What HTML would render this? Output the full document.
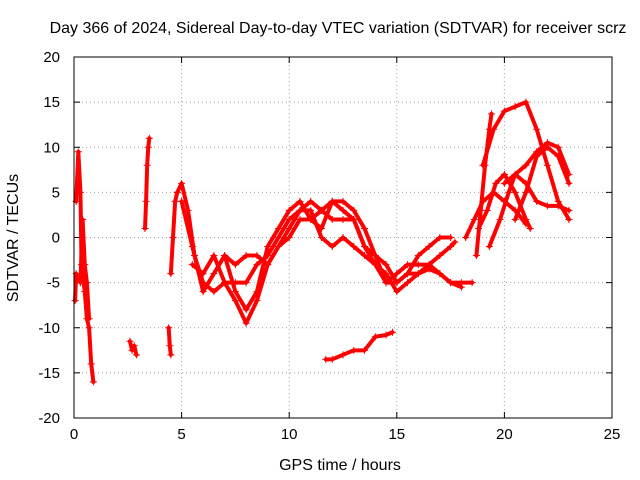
<!DOCTYPE html>
<html><head><meta charset="utf-8"><style>
body{margin:0;background:#fff}
svg{display:block;font-family:"Liberation Sans",sans-serif}
</style></head><body>
<svg id="c" width="640" height="480">
<rect width="640" height="480" fill="#fff"/>
<text x="338" y="33" font-size="16" text-anchor="middle">Day 366 of 2024, Sidereal Day-to-day VTEC variation (SDTVAR) for receiver scrz</text>
<text x="340" y="470" font-size="16" text-anchor="middle">GPS time / hours</text>
<text transform="translate(18,238) rotate(-90)" font-size="16" text-anchor="middle">SDTVAR / TECUs</text>
<g id="grid"></g><g id="ticks"></g><g id="marks"></g>
<rect x="74" y="57" width="538" height="361" fill="none" stroke="#000"/>
</svg>
<script>
const xTicks=[0,5,10,15,20,25];
const yTicks=[-20,-15,-10,-5,0,5,10,15,20];
const seriesA=[[0.1,4],[0.2,9.5],[0.3,5],[0.35,-3],[0.4,-4],[0.5,-6],[0.6,-9],[0.7,-10],[0.8,-14],[0.9,-16]];
const seriesA2=[[0.05,-7],[0.1,-4],[0.3,-5],[0.4,2],[0.5,-3],[0.6,-5],[0.7,-9]];
const seriesB=[[2.6,-11.5],[2.7,-12.5],[2.8,-12],[2.9,-13]];
const seriesC=[[3.3,1],[3.35,4],[3.4,8],[3.45,10],[3.5,11]];
const seriesD=[[4.4,-10],[4.45,-12],[4.5,-13]];
const seriesE=[[4.5,-4],[4.6,0],[4.7,4],[4.8,5]];
const curve1=[[4.8,5],[5,6],[5.3,3],[5.6,-2],[6,-5],[6.5,-6],[7,-5],[7.5,-7],[8,-9.5],[8.5,-7],[9,-3],[9.5,-1],[10,1],[10.5,3],[11,4],[11.5,3],[12,2],[12.5,2],[13,2],[13.5,-1],[14,-3],[14.5,-5],[15,-4],[15.5,-3],[16,-3],[16.5,-3],[17,-4],[17.5,-5],[18,-5],[18.5,-5]];
const curve2=[[5,4],[5.5,-1],[6,-6],[6.5,-4],[7,-2],[7.5,-6],[8,-8],[8.5,-6],[9,-1],[9.5,1],[10,3],[10.5,4],[11,2],[11.5,1],[12,4],[12.5,4],[13,3],[13.5,1],[14,-2],[14.5,-5],[15,-5],[15.5,-4],[16,-2],[16.5,-1],[17,0],[17.5,0]];
const curve3=[[5.5,-3],[6,-4],[6.5,-2],[7,-5],[7.5,-5],[8,-5],[8.5,-3],[9,-2],[9.5,0],[10,2],[10.5,3],[11,3],[11.5,0],[12,-1],[12.5,0],[13,-1],[13.5,-2],[14,-3],[14.5,-4],[15,-6],[15.5,-5],[16,-4],[16.5,-3],[17,-2],[17.5,-1],[17.7,-0.5]];
const curve4=[[7,-2],[7.5,-3],[8,-2],[8.5,-2],[9,-3],[9.5,-1],[10,0],[10.5,2],[11,2],[11.5,3],[12,4],[12.5,3],[13,2],[13.5,-1],[14,-2],[14.5,-3],[15,-5],[15.5,-4],[16,-4],[16.5,-3.5],[17,-4],[17.5,-5],[18,-5.5]];
const curveLow=[[11.7,-13.5],[12,-13.5],[12.5,-13],[13,-12.5],[13.5,-12.5],[14,-11],[14.5,-10.8],[14.8,-10.5]];
const rise=[[18.7,-2],[18.9,3],[19.1,8],[19.3,12],[19.4,13.7]];
const right1=[[19,8],[19.5,12],[20,14],[20.5,14.5],[21,15],[21.5,12],[22,8],[22.5,4],[23,2]];
const right2=[[19.3,-1],[19.8,2],[20.2,5],[20.5,7],[21,6],[21.5,4],[22,3.5],[22.5,3.5],[23,3]];
const right3=[[18.8,1],[19.2,3],[19.6,6],[20,7],[20.5,5],[21,2],[21.2,1]];
const right4=[[20.5,2],[21,5],[21.5,9],[22,10],[22.5,9],[23,6]];
const right5=[[18.2,0],[18.6,2],[19,4],[19.5,5],[20,4],[20.5,3],[21,1.5]];
const right6=[[20,6],[21,8],[21.5,9.5],[22,10.5],[22.5,10],[23,7]];
const allSeries=[seriesA,seriesA2,seriesB,seriesC,seriesD,seriesE,curve1,curve2,curve3,curve4,curveLow,rise,right1,right2,right3,right4,right5,right6];

const X0=74,X1=612,Y0=418,Y1=57;
const sx=v=>X0+(v-0)/(25-0)*(X1-X0);
const sy=v=>Y0-(v+20)/40*(Y0-Y1);
const NS="http://www.w3.org/2000/svg";
const mk=(t,a,p)=>{const e=document.createElementNS(NS,t);for(const k in a)e.setAttribute(k,a[k]);p.appendChild(e);return e;};
const grid=document.getElementById('grid'),ticks=document.getElementById('ticks'),marks=document.getElementById('marks');
xTicks.forEach(t=>{const x=sx(t);
 if(t>0&&t<25){const g=mk('line',{x1:x,x2:x,y1:Y0,y2:Y1,stroke:'#a0a0a0','stroke-dasharray':'1,3'},grid);
 
 }
 mk('line',{x1:x,x2:x,y1:Y0,y2:Y0-6,stroke:'#000'},ticks);mk('line',{x1:x,x2:x,y1:Y1,y2:Y1+6,stroke:'#000'},ticks);
 const l=mk('text',{x:x,y:Y0+21,'font-size':15,'text-anchor':'middle'},ticks);l.textContent=t;
 
 });
yTicks.forEach(t=>{const y=sy(t);
 if(t>-20&&t<20){const g=mk('line',{x1:X0,x2:X1,y1:y,y2:y,stroke:'#a0a0a0','stroke-dasharray':'1,3'},grid);
 
 }
 mk('line',{x1:X0,x2:X0+6,y1:y,y2:y,stroke:'#000'},ticks);mk('line',{x1:X1,x2:X1-6,y1:y,y2:y,stroke:'#000'},ticks);
 const l=mk('text',{x:X0-14,y:y+5,'font-size':15,'text-anchor':'end'},ticks);l.textContent=t;
 
 });
allSeries.forEach((s,i)=>{
 const pl=mk('polyline',{points:s.map(p=>sx(p[0])+','+sy(p[1])).join(' '),fill:'none',stroke:'#f00','stroke-width':4,'stroke-linejoin':'round','stroke-linecap':'round'},marks);
 
 
 s.forEach(p=>{const x=sx(p[0]),y=sy(p[1]);
  const m=mk('path',{d:`M${x-3.5},${y}h7M${x},${y-3.5}v7`,stroke:'#f00','stroke-width':1},marks);
  
  });
});
</script>
</body></html>
